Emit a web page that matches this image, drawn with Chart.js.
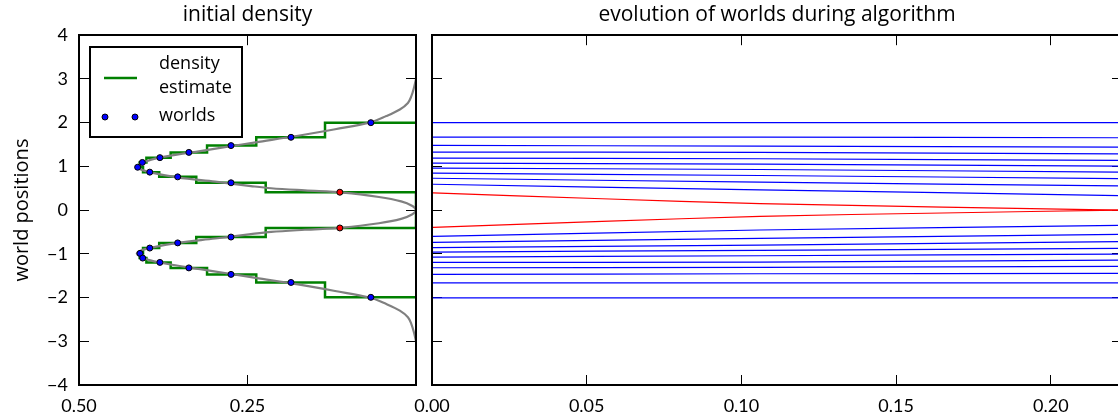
<!DOCTYPE html>
<html>
<head>
<meta charset="utf-8">
<script src="https://cdn.jsdelivr.net/npm/chart.js@4.4.1/dist/chart.umd.min.js"></script>
<style>
	html, body { margin: 0; padding: 0; background: #fff; overflow: hidden; }
	#wrap { position: relative; width: 1118px; height: 419px; overflow: hidden; }
	canvas { position: absolute; top: 0; }
</style>
</head>
<body>
<div id="wrap">
	<canvas id="density" width="424" height="419" style="left:0"></canvas>
	<canvas id="evolution" width="754" height="419" style="left:380px"></canvas>
</div>
<script>
// --- left panel: worlds on the initial density ---
var worldPositions = [2.0, 1.665, 1.475, 1.32, 1.2, 1.09, 0.98, 0.868, 0.76, 0.625, 0.409,
	-0.409, -0.616, -0.75, -0.868, -0.99, -1.097, -1.196, -1.322, -1.47, -1.655, -1.995];
var worldDensity = [0.067, 0.1855, 0.2745, 0.337, 0.38, 0.406, 0.413, 0.395, 0.3536, 0.2745, 0.113,
	0.113, 0.2745, 0.3536, 0.395, 0.4095, 0.4055, 0.38, 0.337, 0.2745, 0.1855, 0.067];
var convergedWorlds = [10, 11];
// density estimate between consecutive worlds (top to bottom)
var densityEstimate = [0.135, 0.237, 0.310, 0.364, 0.400, 0.410, 0.405, 0.381, 0.326, 0.223, 0,
	0.223, 0.326, 0.381, 0.405, 0.410, 0.400, 0.364, 0.310, 0.237, 0.135];
// true density curve
var curveY = [3.0, 2.8, 2.6, 2.45, 2.3, 2.15, 2.0, 1.85, 1.7, 1.55, 1.45, 1.35, 1.25, 1.15, 1.05, 1.0, 0.95, 0.87,
	0.75, 0.65, 0.55, 0.5, 0.45, 0.4, 0.3, 0.2, 0.1, 0.0,
	-0.1, -0.2, -0.3, -0.4, -0.45, -0.5, -0.55, -0.65, -0.75, -0.87, -0.95, -1.0, -1.05, -1.15, -1.25, -1.35,
	-1.45, -1.55, -1.7, -1.85, -2.0, -2.15, -2.3, -2.45, -2.6, -2.8, -3.0];
var curveX = [0.0, 0.003, 0.007, 0.012, 0.024, 0.044, 0.069, 0.12, 0.175, 0.238, 0.279, 0.32, 0.362, 0.394, 0.41, 0.414, 0.412, 0.396,
	0.354, 0.298, 0.245, 0.215, 0.165, 0.108, 0.055, 0.022, 0.006, 0.0,
	0.006, 0.022, 0.055, 0.108, 0.165, 0.215, 0.245, 0.298, 0.354, 0.396, 0.412, 0.414, 0.41, 0.394, 0.362, 0.32,
	0.279, 0.238, 0.175, 0.12, 0.069, 0.044, 0.024, 0.012, 0.007, 0.003, 0.0];

// --- right panel: world trajectories ---
var timeSparse = [0, 0.106, 0.222];
var timeDense = [0, 0.055, 0.106, 0.165, 0.222];
var blueTrajectories = [
	[2.0, 2.0, 2.0],
	[1.67, 1.67, 1.655],
	[1.479, 1.464, 1.441],
	[1.326, 1.319, 1.288],
	[1.188, 1.174, 1.135],
	[1.073, 1.051, 1.005],
	[0.959, 0.929, 0.868],
	[0.844, 0.791, 0.722],
	[0.729, 0.638, 0.554],
	[0.592, 0.463, 0.333],
	[-0.601, -0.455, -0.348],
	[-0.738, -0.646, -0.554],
	[-0.86, -0.799, -0.722],
	[-0.959, -0.921, -0.875],
	[-1.074, -1.044, -1.005],
	[-1.196, -1.189, -1.143],
	[-1.319, -1.311, -1.288],
	[-1.472, -1.456, -1.449],
	[-1.663, -1.663, -1.663],
	[-2.007, -2.007, -2.007]
];
var redTrajectories = [
	[0.394, 0.26, 0.149, 0.069, 0.0],
	[-0.394, -0.26, -0.142, -0.066, 0.0]
];

var yTicks = { min: -4, max: 4, step: 1 };
var leftTicks = { min: 0, max: 0.5, step: 0.25 };
var rightTicks = { min: 0, max: 0.223, step: 0.05 };

Chart.defaults.font.family = 'Lato';
Chart.defaults.color = '#000';

var tickFont = { family: 'Lato', size: 18 };
var titleFont = { family: 'Open Sans', size: 21, weight: 'normal' };
var labelFont = { family: 'Open Sans', size: 20, weight: 'normal' };

function innerTicks() {
	return { drawOnChartArea: false, drawTicks: true, tickLength: -10, color: '#000', lineWidth: 1 };
}
var frame = { display: true, color: '#000', width: 2 };

function minusLabel(v) {
	return v < 0 ? '\u2212' + Math.abs(v) : '' + v;
}
// keep the tick labels from shrinking the plot area
function fixHeight(h) {
	return function(s) { s.height = h; s.paddingLeft = 0; s.paddingRight = 0; };
}
function fixWidth(w) {
	return function(s) { s.width = w; s.paddingTop = 0; s.paddingBottom = 0; };
}

// step line of the density estimate
var stepPoints = [{ x: 0, y: worldPositions[0] }];
for (var i = 0; i < densityEstimate.length; i++) {
	stepPoints.push({ x: densityEstimate[i], y: worldPositions[i] });
	stepPoints.push({ x: densityEstimate[i], y: worldPositions[i + 1] });
}
stepPoints.push({ x: 0, y: worldPositions[worldPositions.length - 1] });

var worldColors = worldPositions.map(function(y, i) {
	return convergedWorlds.indexOf(i) >= 0 ? '#ff0000' : '#0000ff';
});

// legend drawn inside the left axes
var legendBox = {
	id: 'legendBox',
	afterDraw: function(chart) {
		var ctx = chart.ctx;
		ctx.save();
		ctx.fillStyle = '#fff';
		ctx.fillRect(90, 47, 152, 90);
		ctx.strokeStyle = '#000';
		ctx.lineWidth = 2;
		ctx.strokeRect(90, 47, 152, 90);
		ctx.strokeStyle = '#008000';
		ctx.lineWidth = 2.5;
		ctx.beginPath();
		ctx.moveTo(104, 78);
		ctx.lineTo(137, 78);
		ctx.stroke();
		[105, 135].forEach(function(x) {
			ctx.beginPath();
			ctx.arc(x, 117, 3, 0, Math.PI * 2);
			ctx.fillStyle = '#0000ff';
			ctx.fill();
			ctx.lineWidth = 1;
			ctx.strokeStyle = '#000';
			ctx.stroke();
		});
		ctx.fillStyle = '#000';
		ctx.font = '18px "Open Sans"';
		ctx.textBaseline = 'middle';
		ctx.fillText('density', 159, 64);
		ctx.fillText('estimate', 159, 88);
		ctx.fillText('worlds', 159, 116);
		ctx.restore();
	}
};

new Chart(document.getElementById('density'), {
	type: 'scatter',
	data: {
		datasets: [{
			label: 'worlds',
			data: worldPositions.map(function(y, i) { return { x: worldDensity[i], y: y }; }),
			pointRadius: 3,
			pointBackgroundColor: worldColors,
			pointBorderColor: '#000',
			pointBorderWidth: 1,
			clip: -1
		}, {
			label: 'density',
			data: curveY.map(function(y, i) { return { x: curveX[i], y: y }; }),
			showLine: true,
			borderColor: '#808080',
			borderWidth: 2.2,
			pointRadius: 0,
			tension: 0.35,
			clip: -1
		}, {
			label: 'density estimate',
			data: stepPoints,
			showLine: true,
			borderColor: '#008000',
			borderWidth: 2.5,
			pointRadius: 0,
			clip: -1
		}]
	},
	options: {
		responsive: false,
		animation: false,
		layout: { padding: { left: 0, right: 8, top: 0, bottom: 0 } },
		plugins: {
			legend: { display: false },
			tooltip: { enabled: false },
			title: {
				display: true,
				text: 'initial density',
				fullSize: false,
				font: titleFont,
				color: '#000',
				padding: { top: 2, bottom: 8 }
			}
		},
		scales: {
			x: {
				type: 'linear', position: 'bottom', reverse: true,
				min: leftTicks.min, max: leftTicks.max,
				ticks: {
					stepSize: leftTicks.step, font: tickFont, padding: 20, maxRotation: 0,
					callback: function(v) { return v === 0 ? '' : v.toFixed(2); }
				},
				grid: innerTicks(), border: frame,
				afterFit: fixHeight(34)
			},
			x2: {
				type: 'linear', axis: 'x', position: 'top', reverse: true,
				min: leftTicks.min, max: leftTicks.max,
				ticks: { stepSize: leftTicks.step, display: false },
				grid: innerTicks(), border: frame,
				afterFit: fixHeight(0)
			},
			y: {
				type: 'linear', position: 'left',
				min: yTicks.min, max: yTicks.max,
				ticks: { stepSize: yTicks.step, font: tickFont, padding: 21, callback: minusLabel },
				title: { display: true, text: 'world positions', font: labelFont, padding: { top: 10, bottom: 0 } },
				grid: innerTicks(), border: frame,
				afterFit: fixWidth(79)
			},
			y2: {
				type: 'linear', axis: 'y', position: 'right',
				min: yTicks.min, max: yTicks.max,
				ticks: { stepSize: yTicks.step, display: false },
				grid: innerTicks(), border: frame,
				afterFit: fixWidth(0)
			}
		}
	},
	plugins: [legendBox]
});

// right panel datasets
var trajectorySets = [];
blueTrajectories.forEach(function(traj) {
	trajectorySets.push({
		data: traj.map(function(y, j) { return { x: timeSparse[j], y: y }; }),
		showLine: true, borderColor: '#0000ff', borderWidth: 1.2, pointRadius: 0, tension: 0.3, clip: -1
	});
});
redTrajectories.forEach(function(traj) {
	trajectorySets.push({
		data: traj.map(function(y, j) { return { x: timeDense[j], y: y }; }),
		showLine: true, borderColor: '#ff0000', borderWidth: 1.2, pointRadius: 0, tension: 0.3, clip: -1
	});
});

new Chart(document.getElementById('evolution'), {
	type: 'scatter',
	data: { datasets: trajectorySets },
	options: {
		responsive: false,
		animation: false,
		layout: { padding: { left: 0, right: 12, top: 0, bottom: 0 } },
		plugins: {
			legend: { display: false },
			tooltip: { enabled: false },
			title: {
				display: true,
				text: 'evolution of worlds during algorithm',
				fullSize: false,
				font: titleFont,
				color: '#000',
				padding: { top: 2, bottom: 8 }
			}
		},
		scales: {
			x: {
				type: 'linear', position: 'bottom',
				min: rightTicks.min, max: rightTicks.max,
				ticks: {
					stepSize: rightTicks.step, includeBounds: false, font: tickFont, padding: 20, maxRotation: 0,
					callback: function(v) { return v.toFixed(2); }
				},
				grid: innerTicks(), border: frame,
				afterFit: fixHeight(34)
			},
			x2: {
				type: 'linear', axis: 'x', position: 'top',
				min: rightTicks.min, max: rightTicks.max,
				ticks: { stepSize: rightTicks.step, includeBounds: false, display: false },
				grid: innerTicks(), border: frame,
				afterFit: fixHeight(0)
			},
			y: {
				type: 'linear', position: 'left',
				min: yTicks.min, max: yTicks.max,
				ticks: { stepSize: yTicks.step, display: false },
				grid: innerTicks(), border: frame,
				afterFit: fixWidth(52)
			},
			y2: {
				type: 'linear', axis: 'y', position: 'right',
				min: yTicks.min, max: yTicks.max,
				ticks: { stepSize: yTicks.step, display: false },
				grid: innerTicks(), border: frame,
				afterFit: fixWidth(0)
			}
		}
	}
});
</script>
</body>
</html>
